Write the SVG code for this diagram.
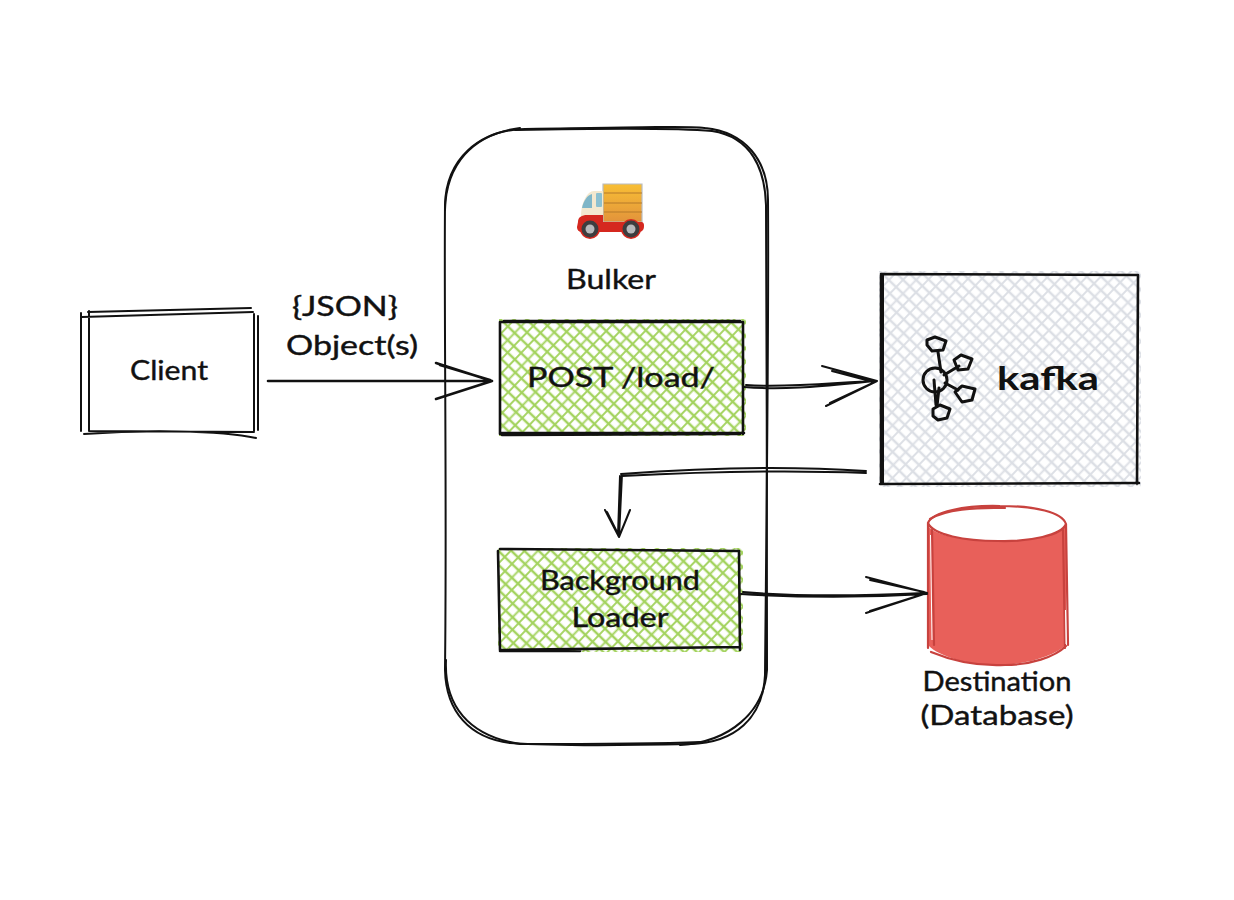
<svg xmlns="http://www.w3.org/2000/svg" width="1234" height="900" viewBox="0 0 1234 900">
<style>
.s{fill:none;stroke:#111;stroke-width:2;stroke-linecap:round;stroke-linejoin:round}
.b{stroke-width:2.6}
.l{stroke-width:3}
.t{font-family:"Lato","Open Sans","Liberation Sans",sans-serif;fill:#111;stroke:#111;stroke-width:.4;text-anchor:middle;font-size:27px}
.r{fill:none;stroke:#c8423e;stroke-width:2.2;stroke-linecap:round}
</style>
<defs>
<pattern id="green" width="28" height="28" patternUnits="userSpaceOnUse" patternTransform="rotate(44)">
<rect width="28" height="28" fill="#fff"/>
<path d="M0 4H28M0 13H28M0 22H28" stroke="#a4d35f" stroke-width="2.3" fill="none"/>
<path d="M4 0V28M13.500 0V28M22 0V28" stroke="#a4d35f" stroke-width="1.9" fill="none"/>
</pattern>
<pattern id="gray" width="28" height="28" patternUnits="userSpaceOnUse" patternTransform="rotate(44)">
<rect width="28" height="28" fill="#fff"/>
<path d="M0 4H28M0 13H28M0 22H28" stroke="#dcdfe5" stroke-width="2.3" fill="none"/>
<path d="M4 0V28M13.500 0V28M22 0V28" stroke="#dcdfe5" stroke-width="1.9" fill="none"/>
</pattern>
<linearGradient id="cargo" x1="0" y1="0" x2="0" y2="1"><stop offset="0" stop-color="#f8bf35"/><stop offset="1" stop-color="#e2933b"/></linearGradient>
</defs>
<rect width="1234" height="900" fill="#fff"/>

<g id="bulker">
<path class="s" d="M525 129C640 127 700 126 705 128C745 132 768 160 768 200C769 330 766 560 765 675C763 718 735 743 690 744C600 746 540 745 510 743C470 738 446 712 445 670C447 500 444 320 445 205C446 160 478 130 525 129Z"/>
<path class="s" d="M515 130C620 128 690 129 712 131C752 137 765 170 766 205C766 340 768 560 767 670C764 712 730 742 680 745"/>
<path class="s" d="M445 210C446 165 472 134 520 128M446 660C444 705 468 736 520 744C590 744 650 744 700 742"/>
<text class="t" x="611" y="289" textLength="90" lengthAdjust="spacingAndGlyphs">Bulker</text>
</g>

<g id="truck">
<path d="M603 184H642V222H603Z" fill="url(#cargo)" stroke="#b9bcc0" stroke-width="1.2"/>
<path d="M604 193H642M604 203H642M604 212H642" stroke="#b57a2a" stroke-width="1.2" fill="none"/>
<path d="M581 216C581 203 587 191 594 191H603V218H581Z" fill="#f3e8cf"/>
<path d="M582 208C583 202 587 195 592 194V208Z" fill="#7fb6c8"/>
<rect x="596" y="193" width="6" height="14" rx="1" fill="#8cc0d0"/>
<path d="M578 222C578 217 582 215 587 215H603V222H642C644 223 644 224 644 226C644 230 642 232 638 232H582C579 232 577 230 577 227Z" fill="#d5281f"/>
<circle cx="590" cy="229" r="10" fill="#d5281f"/><circle cx="631" cy="229" r="10" fill="#d5281f"/>
<circle cx="590" cy="229" r="8.5" fill="#3d3d3f"/><circle cx="590" cy="229" r="4.5" fill="#b8b9bc"/>
<circle cx="631" cy="229" r="8.5" fill="#3d3d3f"/><circle cx="631" cy="229" r="4.5" fill="#b8b9bc"/>
</g>

<g id="client">
<path class="s" d="M81 313V431M89 311V431M254 314V431M258 316V430M88 312L251 308M82 317L253 312M89 431L254 432M84 434C140 430 220 430 256 438"/>
<text class="t" x="169" y="380" textLength="78" lengthAdjust="spacingAndGlyphs">Client</text>
</g>

<g id="post-load">
<rect x="499" y="319" width="247" height="117" fill="url(#green)"/>
<path class="s b" d="M501 322H743M504 321H740M500 322L500 434M743 322L743 434M500 433L744 433M502 435L740 434"/>
<text class="t" x="621" y="387" textLength="188" lengthAdjust="spacingAndGlyphs">POST /load/</text>
</g>

<g id="background-loader">
<rect x="498" y="548" width="245" height="104" fill="url(#green)"/>
<path class="s b" d="M500 549L739 551M498 551L500 650M739 551L740 650M500 650L740 647M500 651H580"/>
<text class="t" x="620" y="590" textLength="160" lengthAdjust="spacingAndGlyphs">Background</text>
<text class="t" x="620" y="627" textLength="97" lengthAdjust="spacingAndGlyphs">Loader</text>
</g>

<g id="kafka">
<rect x="879" y="271" width="262" height="216" fill="url(#gray)"/>
<path class="s b" d="M881 274L1138 275M881 275V484M1138 275L1137 484M880 484L1139 483"/>
<path class="s" d="M883 275V484"/>
<g id="kafka-logo">
<circle class="s l" cx="935" cy="380" r="12"/>
<path class="s l" d="M938 352L941 372M944 375L959 366M945 383L958 390M939 388L937 406M934 380L936 405"/>
<path class="s l" d="M927 340L935 337L946 341L943 350L932 351L927 345ZM954 360L961 355L972 359L968 369L958 370ZM955 392L962 386L975 389L972 400L962 402ZM933 409L940 405L950 409L947 418L938 420L933 416Z"/>
</g>
<text x="1048" y="390" textLength="102" lengthAdjust="spacingAndGlyphs" font-family="Lato, 'Liberation Sans', sans-serif" font-size="33" font-weight="700" text-anchor="middle" fill="#111">kafka</text>
</g>

<g id="destination">
<path d="M928 523V645C940 658 975 666 1000 665C1030 664 1055 655 1066 645V523Z" fill="#e8605a"/>
<ellipse cx="997" cy="524" rx="69" ry="17" fill="#fff"/>
<path class="r" d="M928 523C932 512 965 505 1000 506C1035 506 1062 512 1066 524C1062 535 1030 542 998 541C965 541 933 535 928 523ZM928 523V648M1066 524L1068 645"/>
<path class="r" d="M932 530L934 645M1063 530L1065 648M931 652C960 664 985 666 1005 665C1030 665 1055 657 1066 646M930 519C945 510 975 507 1005 508"/>
<path d="M930.500 535L932 640M1065.500 610L1066 644" stroke="#fff" stroke-width="1" fill="none"/>
<text class="t" x="997" y="691" font-size="25" textLength="149" lengthAdjust="spacingAndGlyphs">Destination</text>
<text class="t" x="997" y="725" font-size="25" textLength="153" lengthAdjust="spacingAndGlyphs">(Database)</text>
</g>

<text class="t" x="345" y="316" textLength="106" lengthAdjust="spacingAndGlyphs">{JSON}</text>
<text class="t" x="352" y="355" textLength="132" lengthAdjust="spacingAndGlyphs">Object(s)</text>

<g id="connectors">
<path class="s b" d="M268 381L492 381M436 363L492 381M436 399L492 381M440 365L490 380"/>
<path class="s" d="M744 387C790 391 840 384 877 381M746 385C790 388 840 382 875 381M822 366L877 381M826 406L877 381M832 371L870 381M830 403L875 382"/>
<path class="s" d="M866 471C790 466 700 468 621 474M866 473C790 470 700 472 622 476M622 474L619 537M620 476L618 535M605 510L619 537M630 510L619 537M607 512L618 534"/>
<path class="s" d="M741 594C790 597 860 598 927 594M743 592C790 596 860 596 925 593M866 577L927 593M866 613L927 593M870 580L924 592M870 611L924 594"/>
</g>
</svg>
